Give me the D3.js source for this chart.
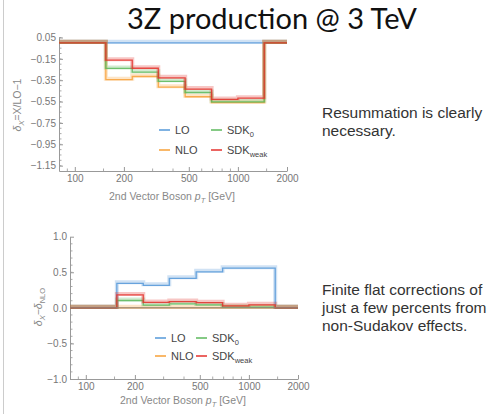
<!DOCTYPE html>
<html>
<head>
<meta charset="utf-8">
<script src="https://cdn.jsdelivr.net/npm/d3@7"></script>
<style>
  body { margin: 0; background: #fff; }
  svg { display: block; font-family: "Liberation Sans", Arial, sans-serif; }
  .axis path, .axis line { stroke: #999; }
  .axis text { fill: #777; font-size: 10px; }
</style>
</head>
<body>
<svg id="slide" width="500" height="414"></svg>
<script>
// bin edges in GeV (2nd vector boson pT)
var binEdges = [155, 225, 325, 475, 690, 1000, 1450];
// top panel: delta_X = X/LO - 1
var loTop      = [0, 0, 0, 0, 0, 0];
var nloTop     = [-0.345, -0.315, -0.415, -0.505, -0.56, -0.56];
var sdk0Top    = [-0.24, -0.275, -0.36, -0.465, -0.552, -0.552];
var sdkWeakTop = [-0.162, -0.238, -0.328, -0.433, -0.53, -0.518];
// bottom panel: delta_X - delta_NLO
var loBot      = [0.345, 0.317, 0.415, 0.507, 0.558, 0.558];
var nloBot     = [0, 0, 0, 0, 0, 0];
var sdk0Bot    = [0.103, 0.038, 0.056, 0.041, 0.009, 0.009];
var sdkWeakBot = [0.182, 0.076, 0.088, 0.073, 0.029, 0.042];

var xTicks = [100, 200, 500, 1000, 2000];
var xMinor = [90, 150, 300, 400, 600, 700, 800, 900, 1500];
var topYTicks = [0.05, -0.15, -0.35, -0.55, -0.75, -0.95, -1.15];
var botYTicks = [1.0, 0.5, 0.0, -0.5, -1.0];

var colors = {LO: "#5598d8", NLO: "#f7a037", SDK0: "#5cb85c", SDKweak: "#e4312c"};

var svg = d3.select("#slide");

// slide border on the left
svg.append("line").attr("x1", 3.5).attr("x2", 3.5).attr("y1", 0).attr("y2", 414)
    .attr("stroke", "#ccc");

svg.append("text")
    .attr("x", 127).attr("y", 29)
    .style("font-family", "Lato, 'Open Sans', sans-serif")
    .style("font-size", "29px")
    .attr("fill", "#111")
    .text("3Z production @ 3 TeV");

function stepData(vals) {
    var xs = [80].concat(binEdges, [2000]);
    var ys = [0].concat(vals, [0, 0]);
    return xs.map(function(x, i) { return {x: x, y: ys[i]}; });
}

function drawPanel(opt) {
    var x = d3.scaleLog().domain([80, 2000]).range(opt.xr);
    var y = d3.scaleLinear().domain(opt.yd).range(opt.yr);
    var g = svg.append("g");

    g.selectAll(".ymin").data(opt.yMinor).enter().append("line")
        .attr("x1", opt.xr[0]).attr("x2", opt.xr[0] + 2.5)
        .attr("y1", function(d) { return y(d); }).attr("y2", function(d) { return y(d); })
        .attr("stroke", "#aaa");
    g.selectAll(".xmin").data(xMinor).enter().append("line")
        .attr("x1", function(d) { return x(d); }).attr("x2", function(d) { return x(d); })
        .attr("y1", opt.yr[0]).attr("y2", opt.yr[0] - 2.5)
        .attr("stroke", "#aaa");

    g.append("g").attr("class", "axis")
        .attr("transform", "translate(0," + opt.yr[0] + ")")
        .call(d3.axisBottom(x).tickValues(xTicks).tickFormat(d3.format("d"))
            .tickSizeInner(-4).tickSizeOuter(0).tickPadding(4));
    g.append("g").attr("class", "axis")
        .attr("transform", "translate(" + opt.xr[0] + ",0)")
        .call(d3.axisLeft(y).tickValues(opt.yTicks).tickFormat(d3.format(opt.fmt))
            .tickSizeInner(-4).tickSizeOuter(0).tickPadding(3));

    var line = d3.line()
        .x(function(d) { return x(d.x); })
        .y(function(d) { return y(d.y); })
        .curve(d3.curveStepAfter);

    opt.series.forEach(function(s) {
        var pts = stepData(s.vals);
        // faint error band
        g.append("path").datum(pts)
            .attr("d", line).attr("fill", "none")
            .attr("stroke", colors[s.key]).attr("stroke-opacity", 0.28)
            .attr("stroke-width", 4)
            .attr("transform", "translate(0,-1)");
        g.append("path").datum(pts)
            .attr("d", line).attr("fill", "none")
            .attr("stroke", colors[s.key]).attr("stroke-opacity", 0.85)
            .attr("stroke-width", 1.3);
    });

    if (opt.zeroAxis) {
        g.append("line").attr("x1", opt.xr[0]).attr("x2", opt.xr[1])
            .attr("y1", y(0)).attr("y2", y(0))
            .attr("stroke", "#8a8580").attr("stroke-opacity", 0.7).attr("stroke-width", 1.5);
    }

    // axis titles
    var xt = g.append("text")
        .attr("x", opt.xTitle[0]).attr("y", opt.xTitle[1])
        .attr("text-anchor", "middle").attr("fill", "#888").style("font-size", "10.5px");
    xt.append("tspan").text("2nd Vector Boson ");
    xt.append("tspan").style("font-style", "italic").text("p");
    xt.append("tspan").attr("dy", 2.5).style("font-size", "7.5px").style("font-style", "italic").text("T");
    xt.append("tspan").attr("dy", -2.5).text(" [GeV]");

    var yt = g.append("text")
        .attr("transform", "translate(" + opt.yTitle[0] + "," + opt.yTitle[1] + ") rotate(-90)")
        .attr("text-anchor", "middle").attr("fill", "#888").style("font-size", "10.5px");
    opt.yLabel(yt);

    // legend
    var lg = opt.legend;
    var items = [
        {key: "LO", sub: null, col: 0, row: 0},
        {key: "SDK0", sub: "0", col: 1, row: 0},
        {key: "NLO", sub: null, col: 0, row: 1},
        {key: "SDKweak", sub: "weak", col: 1, row: 1}
    ];
    items.forEach(function(it) {
        var lx = lg.cols[it.col], ly = lg.rows[it.row];
        g.append("line").attr("x1", lx).attr("x2", lx + 11).attr("y1", ly).attr("y2", ly)
            .attr("stroke", colors[it.key]).attr("stroke-width", 1.5);
        var t = g.append("text").attr("x", lx + 16).attr("y", ly + 4)
            .attr("fill", "#444").style("font-size", "11px");
        if (it.sub) {
            t.append("tspan").text("SDK");
            t.append("tspan").attr("dy", 2.5).style("font-size", "7.5px").text(it.sub);
        } else {
            t.text(it.key);
        }
    });
}

drawPanel({
    xr: [59, 287], yd: [-1.2, 0.05], yr: [171, 37.5],
    yTicks: topYTicks, fmt: ".2f",
    yMinor: d3.range(-1.15, 0.06, 0.05),
    series: [
        {key: "LO", vals: loTop}, {key: "NLO", vals: nloTop},
        {key: "SDK0", vals: sdk0Top}, {key: "SDKweak", vals: sdkWeakTop}
    ],
    zeroAxis: false,
    xTitle: [172, 200], yTitle: [21, 105],
    yLabel: function(t) {
        t.append("tspan").style("font-style", "italic").text("δ");
        t.append("tspan").attr("dy", 2.5).style("font-size", "7.5px").style("font-style", "italic").text("X");
        t.append("tspan").attr("dy", -2.5).text("=X/LO−1");
    },
    legend: {cols: [159, 211], rows: [130, 150]}
});

drawPanel({
    xr: [70, 298], yd: [-1, 1], yr: [379, 236.7],
    yTicks: botYTicks, fmt: ".1f",
    yMinor: d3.range(-0.9, 1.0, 0.1),
    series: [
        {key: "LO", vals: loBot}, {key: "NLO", vals: nloBot},
        {key: "SDK0", vals: sdk0Bot}, {key: "SDKweak", vals: sdkWeakBot}
    ],
    zeroAxis: true,
    xTitle: [183, 404], yTitle: [42, 307],
    yLabel: function(t) {
        t.append("tspan").style("font-style", "italic").text("δ");
        t.append("tspan").attr("dy", 2.5).style("font-size", "7.5px").style("font-style", "italic").text("X");
        t.append("tspan").attr("dy", -2.5).text("−");
        t.append("tspan").style("font-style", "italic").text("δ");
        t.append("tspan").attr("dy", 2.5).style("font-size", "7.5px").text("NLO");
    },
    legend: {cols: [155, 196], rows: [338, 356]}
});

// slide comments
var notes = [
    {y: 118, text: "Resummation is clearly"},
    {y: 136, text: "necessary."},
    {y: 295, text: "Finite flat corrections of"},
    {y: 313, text: "just a few percents from"},
    {y: 331, text: "non-Sudakov effects."}
];
svg.selectAll(".note").data(notes).enter().append("text")
    .attr("x", 322).attr("y", function(d) { return d.y; })
    .attr("fill", "#333").style("font-size", "15.5px")
    .text(function(d) { return d.text; });
</script>
</body>
</html>
